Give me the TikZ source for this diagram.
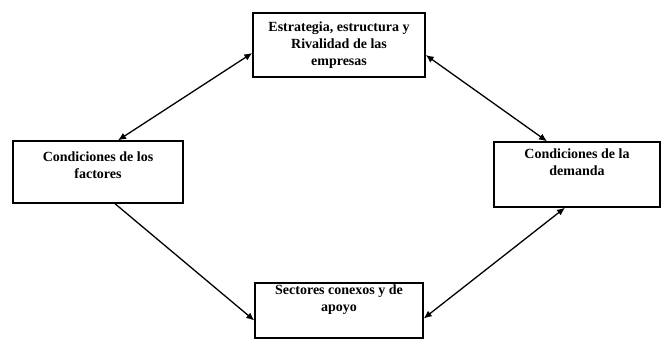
\documentclass[tikz,border=0pt]{standalone}
\usepackage{fontspec}
\setmainfont{Liberation Serif}
\usepackage{tikz}
\usetikzlibrary{positioning, arrows.meta, calc}

\tikzset{
    caja/.style={draw, line width=1.4pt, inner sep=0pt},
    texto/.style={align=center, font=\bfseries\fontsize{14}{17}\selectfont},
    flecha/.style={line width=1.3pt, {Latex[length=8pt,width=7pt]}-{Latex[length=8pt,width=7pt]}},
    flechauna/.style={line width=1.3pt, -{Latex[length=8pt,width=7pt]}}
}

\begin{document}
\begin{tikzpicture}[x=1pt, y=1pt]
            \useasboundingbox (0,0) rectangle (662,347);
            
            % Boxes
            \node[caja, minimum width=172pt, minimum height=64pt] (empresas) at (339,302) {};
            \node[caja, minimum width=170pt, minimum height=62pt] (factores) at (98,175) {};
            \node[caja, minimum width=166pt, minimum height=65pt] (demanda) at (577,172.5) {};
            \node[caja, minimum width=168pt, minimum height=55pt] (apoyo) at (339,36.5) {};
            
            % Texts
            \node[texto] (empresas-t) at (339,302) {Estrategia, estructura y\\Rivalidad de las\\empresas};
            \node[texto] (factores-t) at (98,182) {Condiciones de los\\factores};
            \node[texto] (demanda-t) at (577,185) {Condiciones de la\\demanda};
            \node[texto] (apoyo-t) at (339,47) {Sectores conexos y de\\apoyo};
            
            % Arrows
            \draw[flecha] ($(empresas.west)+(0,-8)$) -- ($(factores.north)+(20,0)$);
            \draw[flecha] ($(empresas.east)+(0,-10)$) -- ($(demanda.north)+(-30,0)$);
            \draw[flechauna] ($(factores.south)+(17,0)$) -- ($(apoyo.west)+(0,-10)$);
            \draw[flecha] ($(demanda.south)+(-12,0)$) -- ($(apoyo.east)+(0,-8)$);
        \end{tikzpicture}
\end{document}
